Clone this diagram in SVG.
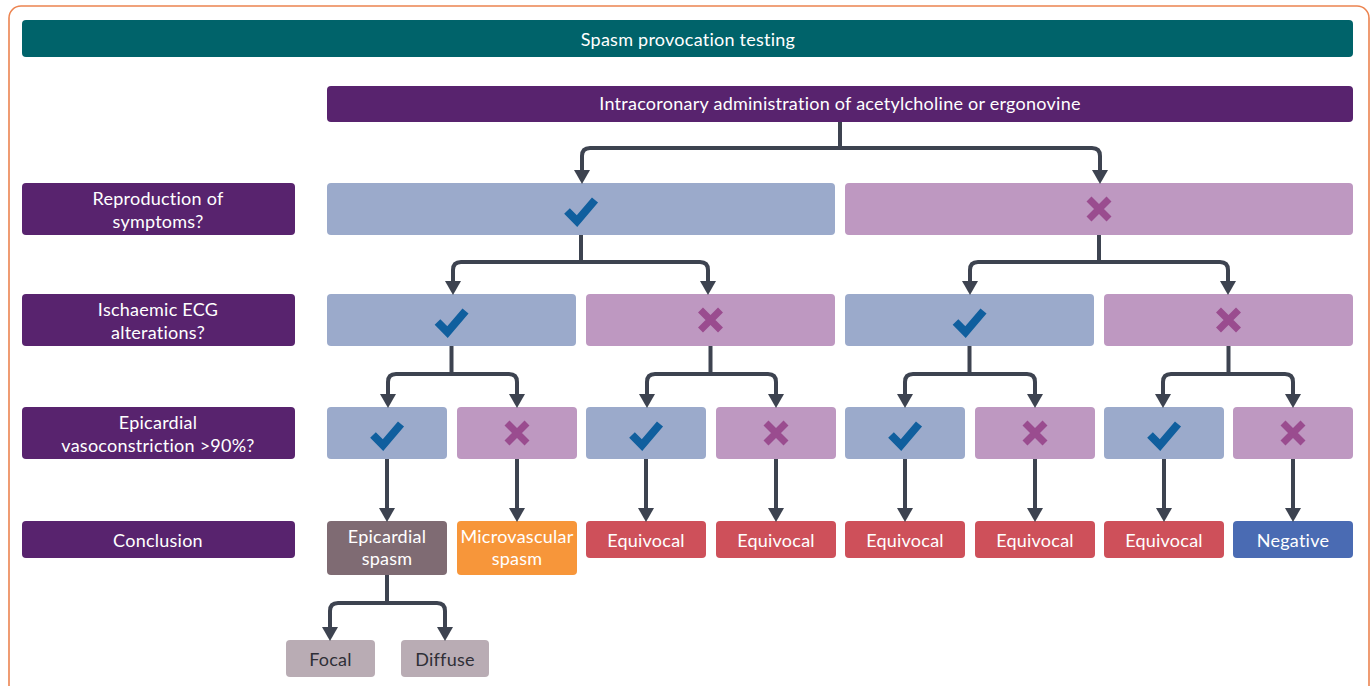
<svg xmlns="http://www.w3.org/2000/svg" width="1372" height="686" viewBox="0 0 1372 686">
<style>
text{font-family:Lato,"Open Sans","Liberation Sans",sans-serif;font-size:18px;letter-spacing:0.25px;fill:#fff;text-anchor:middle;dominant-baseline:central}
.dark{fill:#2f2f37}
.lbl{fill:#58236e}
.yes{fill:#9baacb}
.no{fill:#be98c1}
.chk{fill:none;stroke:#105f9e;stroke-width:8}
.crs{fill:none;stroke:#9a4c8f;stroke-width:7}
.con path{fill:none;stroke:#3d4350;stroke-width:4}
.arr path{marker-end:url(#ah)}
</style>
<defs>
<marker id="ah" viewBox="0 0 14 16" refX="0" refY="8" markerWidth="14" markerHeight="16" markerUnits="userSpaceOnUse" orient="auto">
<path d="M0,0 L14,8 L0,16 z" fill="#3d4350"/>
</marker>
<path id="check" d="M-14,1 L-4,11 L14,-10"/>
<path id="cross" d="M-10,-10 L10,10 M10,-10 L-10,10"/>
</defs>
<rect x="9" y="6" width="1360" height="700" rx="12" fill="#fff" stroke="#ec8450" stroke-width="1.6"/>
<g id="header"><rect x="22" y="20" width="1331" height="37" rx="4" fill="#00636a"/><text x="688" y="38.5">Spasm provocation testing</text></g>
<g id="top"><rect x="327" y="86" width="1026" height="36" rx="4" fill="#58236e"/><text x="840" y="103">Intracoronary administration of acetylcholine or ergonovine</text></g>

<g id="lbl1"><rect class="lbl" x="22" y="183" width="273" height="52" rx="4"/><text x="158" y="198">Reproduction of</text><text x="158" y="221">symptoms?</text></g>
<g id="lbl2"><rect class="lbl" x="22" y="294" width="273" height="52" rx="4"/><text x="158" y="309">Ischaemic ECG</text><text x="158" y="332">alterations?</text></g>
<g id="lbl3"><rect class="lbl" x="22" y="407" width="273" height="52" rx="4"/><text x="158" y="422">Epicardial</text><text x="158" y="445">vasoconstriction &gt;90%?</text></g>
<g id="lbl4"><rect class="lbl" x="22" y="521" width="273" height="37" rx="4"/><text x="158" y="539.5">Conclusion</text></g>

<g id="r1y"><rect class="yes" x="327" y="183" width="508" height="52" rx="4"/><use href="#check" class="chk" x="581" y="210"/></g>
<g id="r1n"><rect class="no" x="845" y="183" width="508" height="52" rx="4"/><use href="#cross" class="crs" x="1099" y="209"/></g>

<g id="r2a"><rect class="yes" x="327" y="294" width="249" height="52" rx="4"/><use href="#check" class="chk" x="451.5" y="321"/></g>
<g id="r2b"><rect class="no" x="586" y="294" width="249" height="52" rx="4"/><use href="#cross" class="crs" x="710.5" y="320"/></g>
<g id="r2c"><rect class="yes" x="845" y="294" width="249" height="52" rx="4"/><use href="#check" class="chk" x="969.5" y="321"/></g>
<g id="r2d"><rect class="no" x="1104" y="294" width="249" height="52" rx="4"/><use href="#cross" class="crs" x="1228.5" y="320"/></g>

<g id="r3a"><rect class="yes" x="327" y="407" width="120" height="52" rx="4"/><use href="#check" class="chk" x="387" y="434"/></g>
<g id="r3b"><rect class="no" x="457" y="407" width="120" height="52" rx="4"/><use href="#cross" class="crs" x="517" y="433"/></g>
<g id="r3c"><rect class="yes" x="586" y="407" width="120" height="52" rx="4"/><use href="#check" class="chk" x="646" y="434"/></g>
<g id="r3d"><rect class="no" x="716" y="407" width="120" height="52" rx="4"/><use href="#cross" class="crs" x="776" y="433"/></g>
<g id="r3e"><rect class="yes" x="845" y="407" width="120" height="52" rx="4"/><use href="#check" class="chk" x="905" y="434"/></g>
<g id="r3f"><rect class="no" x="975" y="407" width="120" height="52" rx="4"/><use href="#cross" class="crs" x="1035" y="433"/></g>
<g id="r3g"><rect class="yes" x="1104" y="407" width="120" height="52" rx="4"/><use href="#check" class="chk" x="1164" y="434"/></g>
<g id="r3h"><rect class="no" x="1233" y="407" width="120" height="52" rx="4"/><use href="#cross" class="crs" x="1293" y="433"/></g>

<g id="c1"><rect x="327" y="521" width="120" height="54" rx="4" fill="#7f6b73"/><text x="387" y="536">Epicardial</text><text x="387" y="558">spasm</text></g>
<g id="c2"><rect x="457" y="521" width="120" height="54" rx="4" fill="#f7963a"/><text x="517" y="536">Microvascular</text><text x="517" y="558">spasm</text></g>
<g id="c3"><rect x="586" y="521" width="120" height="37" rx="4" fill="#ce505a"/><text x="646" y="539.5">Equivocal</text></g>
<g id="c4"><rect x="716" y="521" width="120" height="37" rx="4" fill="#ce505a"/><text x="776" y="539.5">Equivocal</text></g>
<g id="c5"><rect x="845" y="521" width="120" height="37" rx="4" fill="#ce505a"/><text x="905" y="539.5">Equivocal</text></g>
<g id="c6"><rect x="975" y="521" width="120" height="37" rx="4" fill="#ce505a"/><text x="1035" y="539.5">Equivocal</text></g>
<g id="c7"><rect x="1104" y="521" width="120" height="37" rx="4" fill="#ce505a"/><text x="1164" y="539.5">Equivocal</text></g>
<g id="c8"><rect x="1233" y="521" width="120" height="37" rx="4" fill="#4a6bb3"/><text x="1293" y="539.5">Negative</text></g>

<g id="focal"><rect x="286" y="640" width="89" height="37" rx="4" fill="#b9acb4"/><text class="dark" x="330.5" y="658.5">Focal</text></g>
<g id="diffuse"><rect x="401" y="640" width="88" height="37" rx="4" fill="#b9acb4"/><text class="dark" x="445" y="658.5">Diffuse</text></g>

<g id="connectors" class="con">
<path d="M840,122 V150"/>
<path d="M581,235 V264"/>
<path d="M1099,235 V264"/>
<path d="M451.5,346 V376"/>
<path d="M710.5,346 V376"/>
<path d="M969.5,346 V376"/>
<path d="M1228.5,346 V376"/>
<path d="M387,575 V605"/>
<g class="arr">
<path d="M840,148 H590 Q582,148 582,156 V170"/>
<path d="M840,148 H1092 Q1100,148 1100,156 V170"/>
<path d="M581,262 H461 Q453,262 453,270 V281"/>
<path d="M581,262 H700 Q708,262 708,270 V281"/>
<path d="M1099,262 H978 Q970,262 970,270 V281"/>
<path d="M1099,262 H1220 Q1228,262 1228,270 V281"/>
<path d="M451.5,374 H396 Q388,374 388,382 V394"/>
<path d="M451.5,374 H509 Q517,374 517,382 V394"/>
<path d="M710.5,374 H655 Q647,374 647,382 V394"/>
<path d="M710.5,374 H768 Q776,374 776,382 V394"/>
<path d="M969.5,374 H913 Q905,374 905,382 V394"/>
<path d="M969.5,374 H1027 Q1035,374 1035,382 V394"/>
<path d="M1228.5,374 H1171 Q1163,374 1163,382 V394"/>
<path d="M1228.5,374 H1285 Q1293,374 1293,382 V394"/>
<path d="M387,459 V508"/>
<path d="M517,459 V508"/>
<path d="M646,459 V508"/>
<path d="M776,459 V508"/>
<path d="M905,459 V508"/>
<path d="M1035,459 V508"/>
<path d="M1164,459 V508"/>
<path d="M1293,459 V508"/>
<path d="M387,603 H338 Q330,603 330,611 V627"/>
<path d="M387,603 H437 Q445,603 445,611 V627"/>
</g>
</g>
</svg>
